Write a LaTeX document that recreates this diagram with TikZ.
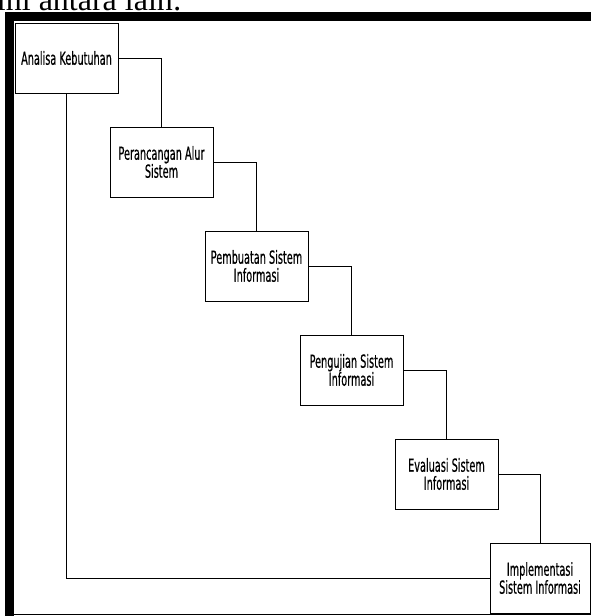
\documentclass[tikz,border=0pt]{standalone}
\usepackage{fontspec}
\setmainfont{Liberation Serif}
\newfontfamily\stagefont[FakeStretch=0.54, FakeBold=0.5]{DejaVu Sans}
\usetikzlibrary{positioning}
\begin{document}
\begin{tikzpicture}[
        x=1pt, y=-1pt,
        stage/.style={draw, line width=0.8pt, fill=white, minimum width=103pt, minimum height=70pt,
            inner sep=2pt, align=center, font=\stagefont\fontsize{18}{18}\selectfont},
        link/.style={draw, line width=0.8pt},
        node distance=104pt and 95pt, on grid,
    ]
    \useasboundingbox (0,0) rectangle (591,616);
    \clip (0,0) rectangle (591,616);
    \node[anchor=base east, inner sep=0pt, font=\fontsize{32}{36}\selectfont] (intro) at (182,10) {ini antara lain:};
    \fill (5,12) rectangle (591,21);
    \fill (5,12) rectangle (14,616);
    \draw[line width=1pt] (14,614.5) -- (591,614.5);
    \node[stage] (analisa) at (66.5,58) {Analisa Kebutuhan};
    \node[stage, below right=of analisa] (rancang) {Perancangan Alur\\Sistem};
    \node[stage, below right=of rancang] (buat) {Pembuatan Sistem\\Informasi};
    \node[stage, below right=of buat] (uji) {Pengujian Sistem\\Informasi};
    \node[stage, below right=of uji] (evaluasi) {Evaluasi Sistem\\Informasi};
    \node[stage, below right=of evaluasi, xshift=-1.5pt, minimum width=100pt] (implementasi) {Implementasi\\Sistem Informasi};
    \draw[link] (analisa.east) -| (rancang.north);
    \draw[link] (rancang.east) -| (buat.north);
    \draw[link] (buat.east) -| (uji.north);
    \draw[link] (uji.east) -| (evaluasi.north);
    \draw[link] (evaluasi.east) -| (implementasi.north);
    \draw[link] (analisa.south) |- (implementasi.west);
\end{tikzpicture}
\end{document}
